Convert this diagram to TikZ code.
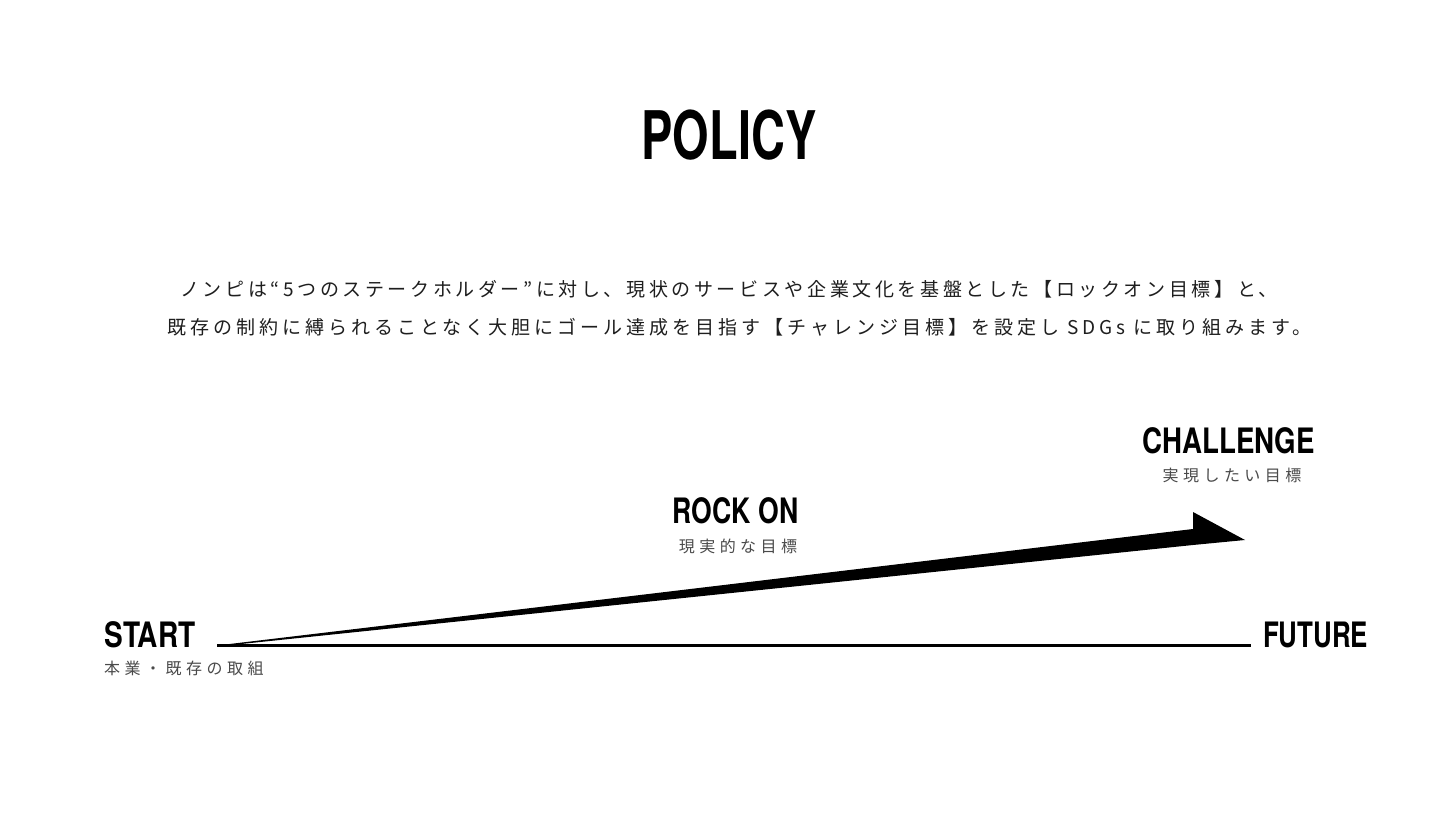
\documentclass[tikz,border=0pt]{standalone}
\usepackage{fontspec}
\newfontfamily\heros{TeX Gyre Heros}
\newfontfamily\jpA[LetterSpace=19]{Noto Sans CJK JP}
\newfontfamily\jpB[LetterSpace=21]{Noto Sans CJK JP}
\newfontfamily\jpsub[LetterSpace=28]{Noto Sans CJK JP}
\definecolor{bodytxt}{HTML}{1E1E1E}
\definecolor{subtxt}{HTML}{4A4A4A}
\tikzset{
  title/.style={font=\heros\bfseries\fontsize{67}{67}\selectfont, inner sep=0pt, text=black},
  lab/.style={font=\heros\bfseries\fontsize{35}{35}\selectfont, inner sep=0pt, text=black},
  bodyA/.style={font=\jpA\fontsize{19}{19}\selectfont, inner sep=0pt, text=bodytxt},
  bodyB/.style={font=\jpB\fontsize{19}{19}\selectfont, inner sep=0pt, text=bodytxt},
  sub/.style={font=\jpsub\fontsize{16}{16}\selectfont, inner sep=0pt, text=subtxt},
}
\begin{document}
\begin{tikzpicture}[x=1pt,y=-1pt]
\useasboundingbox[fill=white] (0,0) rectangle (1440,840);
% title
\node[title] (policy) at (729,135) {\scalebox{0.70}[1]{POLICY}};
% paragraph
\node[bodyA, anchor=west] (line1) at (180,289) {ノンピは“5つのステークホルダー”に対し、現状のサービスや企業文化を基盤とした【ロックオン目標】と、};
\node[bodyB, anchor=west] (line2) at (167,327) {既存の制約に縛られることなく大胆にゴール達成を目指す【チャレンジ目標】を設定し SDGs に取り組みます。};
% timeline
\coordinate (s) at (217,645.5);
\coordinate (e) at (1251,645.5);
\draw[line width=2.2pt] (s) -- (e);
% wedge arrow
\coordinate (wtop) at (1193,529);
\coordinate (barb) at (1193,512);
\coordinate (tip) at (1245,540);
\coordinate (wbot) at (1193,545);
\coordinate (s2) at (217,646.5);
\fill[black] (s) -- (wtop) -- (barb) -- (tip) -- (wbot) -- (s2) -- cycle;
% labels
\node[lab] (start) at (150,635) {\scalebox{0.80}[1]{START}};
\node[sub, anchor=west] (startsub) at (104,668) {本業・既存の取組};
\node[lab] (future) at (1315.5,634.5) {\scalebox{0.74}[1]{FUTURE}};
\node[lab] (rock) at (735.5,511) {\scalebox{0.76}[1]{ROCK ON}};
\node[sub] (rocksub) at (738,546) {現実的な目標};
\node[lab] (chal) at (1228.5,441) {\scalebox{0.79}[1]{CHALLENGE}};
\node[sub] (chalsub) at (1232,475) {実現したい目標};
\end{tikzpicture}
\end{document}
